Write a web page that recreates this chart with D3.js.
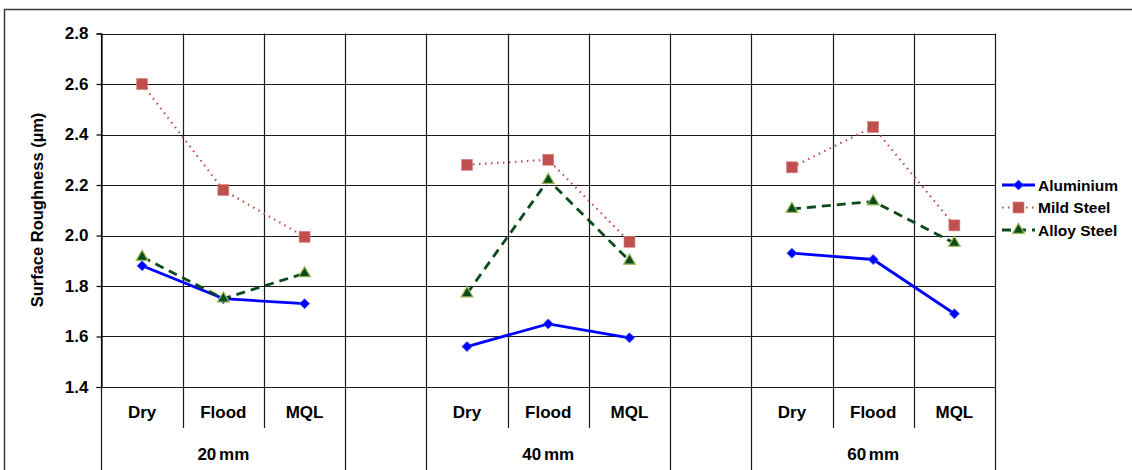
<!DOCTYPE html>
<html><head><meta charset="utf-8">
<script src="https://cdn.jsdelivr.net/npm/d3@7"></script>
<style>body{margin:0;background:#fff;}svg{display:block;font-family:"Liberation Sans",Arial,sans-serif;}</style>
</head><body><svg id="c" width="1132" height="470"></svg>
<script>
const groups = ["20 mm", "40 mm", "60 mm"];
const conditions = ["Dry", "Flood", "MQL"];
const yTicks = [1.4, 1.6, 1.8, 2.0, 2.2, 2.4, 2.6, 2.8];
const seriesNames = ["Aluminium", "Mild Steel", "Alloy Steel"];
const aluminium = [1.88, 1.75, 1.73, 1.56, 1.65, 1.595, 1.93, 1.905, 1.69];
const mildSteel = [2.60, 2.18, 1.995, 2.28, 2.30, 1.975, 2.27, 2.43, 2.04];
const alloySteel = [1.915, 1.75, 1.85, 1.77, 2.22, 1.90, 2.105, 2.135, 1.97];

const svg = d3.select("#c");
const L = 101.5, R = 995, T = 33.5, B = 387;

const slots = [];
groups.forEach((g, gi) => {
  conditions.forEach(c => slots.push(g + "|" + c));
  if (gi < groups.length - 1) slots.push("gap" + gi);
});
const x = d3.scaleBand().domain(slots).range([L, R]).paddingInner(0).paddingOuter(0);
const y = d3.scaleLinear().domain([1.4, 2.8]).range([B, T]);

svg.append("rect").attr("x", 4.5).attr("y", 9.5).attr("width", 1200).attr("height", 600)
  .attr("fill", "none").attr("stroke", "#3a3a3a").attr("stroke-width", 1.5);

svg.append("g").selectAll("line").data(yTicks).join("line")
  .attr("x1", L).attr("x2", R).attr("y1", d => Math.round(y(d)) + 0.5).attr("y2", d => Math.round(y(d)) + 0.5)
  .attr("stroke", "#1a1a1a").attr("stroke-width", 1.2);

const bounds = slots.map(s => x(s)).concat([R]);
svg.append("g").selectAll("line").data(bounds).join("line")
  .attr("x1", d => Math.round(d) + 0.5).attr("x2", d => Math.round(d) + 0.5)
  .attr("y1", T).attr("y2", B)
  .attr("stroke", "#1a1a1a").attr("stroke-width", 1.2);

const yAxis = d3.axisLeft(y).tickValues(yTicks).tickFormat(d3.format(".1f")).tickSize(5).tickPadding(8);
const ya = svg.append("g").attr("transform", `translate(${L},0)`).call(yAxis);
ya.select(".domain").attr("stroke", "#000").attr("stroke-width", 1.2);
ya.selectAll(".tick line").attr("stroke", "#000").attr("stroke-width", 1.2);
ya.selectAll("text").attr("font-size", 17).attr("font-weight", "bold").attr("fill", "#000")
  .attr("font-family", "Liberation Sans, Arial, sans-serif");

svg.append("text").attr("transform", "translate(43,210) rotate(-90)")
  .attr("text-anchor", "middle").attr("font-size", 16.5).attr("font-weight", "bold")
  .text("Surface Roughness (µm)");

const catG = svg.append("g");
groups.forEach((g, gi) => {
  conditions.forEach((c, ci) => {
    const k = g + "|" + c;
    catG.append("text").attr("x", x(k) + x.bandwidth() / 2).attr("y", 418)
      .attr("text-anchor", "middle").attr("font-size", 17).attr("font-weight", "bold").text(c);
    if (ci > 0) {
      catG.append("line").attr("x1", Math.round(x(k)) + 0.5).attr("x2", Math.round(x(k)) + 0.5)
        .attr("y1", B).attr("y2", 428).attr("stroke", "#1a1a1a").attr("stroke-width", 1.2);
    }
  });
  const first = x(g + "|" + conditions[0]);
  const last = x(g + "|" + conditions[conditions.length - 1]) + x.bandwidth();
  catG.append("text").attr("x", (first + last) / 2).attr("y", 460)
    .attr("text-anchor", "middle").attr("font-size", 17).attr("font-weight", "bold")
    .attr("word-spacing", -2).text(g);
  [first, last].forEach(px => catG.append("line").attr("x1", Math.round(px) + 0.5).attr("x2", Math.round(px) + 0.5)
    .attr("y1", B).attr("y2", 470).attr("stroke", "#1a1a1a").attr("stroke-width", 1.2));
});

const cx = k => x(k) + x.bandwidth() / 2;

const series = [
  {name: seriesNames[0], values: aluminium, color: "#0000FF", width: 2.8, dash: null, marker: "diamond"},
  {name: seriesNames[1], values: mildSteel, color: "#C0504D", width: 2.2, dash: "1.5,4.5", marker: "square"},
  {name: seriesNames[2], values: alloySteel, color: "#0B4A1B", width: 2.8, dash: "9,6", marker: "triangle"}
];

function drawMarker(g, type, px, py) {
  if (type === "diamond") {
    const r = 5;
    g.append("path").attr("d", `M${px},${py - r}L${px + r},${py}L${px},${py + r}L${px - r},${py}Z`)
      .attr("fill", "#0000FF").attr("stroke", "#3355ff").attr("stroke-width", 0.8);
  } else if (type === "square") {
    g.append("rect").attr("x", px - 5.5).attr("y", py - 5.5).attr("width", 11).attr("height", 11)
      .attr("fill", "#C0504D").attr("stroke", "#d88a88").attr("stroke-width", 0.6);
  } else {
    g.append("path").attr("d", d3.symbol(d3.symbolTriangle, 60)()).attr("transform", `translate(${px},${py})`)
      .attr("fill", "#0B4A1B").attr("stroke", "#9BBB59").attr("stroke-width", 1.2);
  }
}

const line = d3.line().x(d => cx(d.k)).y(d => y(d.v));
series.forEach(s => {
  const g = svg.append("g");
  groups.forEach((gname, gi) => {
    const pts = conditions.map((c, ci) => ({k: gname + "|" + c, v: s.values[gi * 3 + ci]}));
    g.append("path").attr("d", line(pts)).attr("fill", "none").attr("stroke", s.color)
      .attr("stroke-width", s.width).attr("stroke-dasharray", s.dash);
    pts.forEach(p => drawMarker(g, s.marker, cx(p.k), y(p.v)));
  });
});

const lg = svg.append("g");
series.forEach((s, i) => {
  const ly = 185 + i * 22.5;
  lg.append("line").attr("x1", 1002).attr("x2", 1035).attr("y1", ly).attr("y2", ly)
    .attr("stroke", s.color).attr("stroke-width", s.width).attr("stroke-dasharray", s.dash);
  drawMarker(lg, s.marker, 1018.5, ly);
  lg.append("text").attr("x", 1038).attr("y", ly + 5.5).attr("font-size", 15.5).attr("font-weight", "bold").text(s.name);
});
</script></body></html>
